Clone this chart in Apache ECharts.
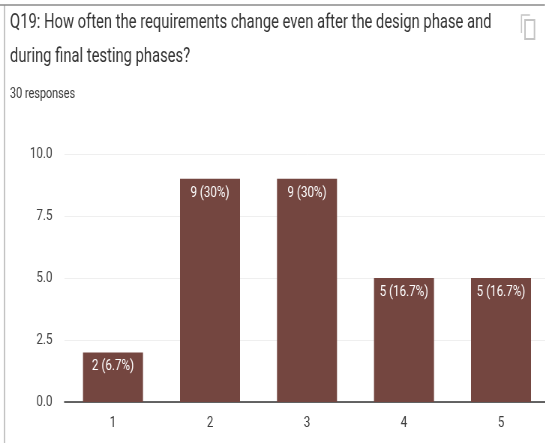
<!DOCTYPE html>
<html><head><meta charset="utf-8">
<style>html,body{margin:0;padding:0;background:#fff;overflow:hidden;width:545px;height:443px}
#c{width:760px;height:443px;transform:scaleX(0.75);transform-origin:0 0}</style>
<script src="https://cdn.jsdelivr.net/npm/echarts@6/dist/echarts.min.js"></script></head>
<body><div id="c"></div>
<script>
const categories = ['1','2','3','4','5'];
const values = [2,9,9,5,5];
const valueLabels = ['2 (6.7%)','9 (30%)','9 (30%)','5 (16.7%)','5 (16.7%)'];
const titleLines = ['Q19: How often the requirements change even after the design phase and','during final testing phases?'];
const subtitle = '30 responses';
const S = 0.75, sx = x => x / S;
const font = 'Roboto,sans-serif';
const chart = echarts.init(document.getElementById('c'),null,{renderer:'canvas',width:760,height:443});
chart.setOption({
  animation:false,
  backgroundColor:'#fff',
  grid:{left:sx(64.5),top:154,width:sx(485),height:248,containLabel:false},
  xAxis:{type:'category',data:categories,
    axisLine:{lineStyle:{color:'#333',width:1.5}},axisTick:{show:false},
    axisLabel:{color:'#3c3c3c',fontFamily:font,fontSize:15.5,margin:13}},
  yAxis:{type:'value',min:0,max:10,interval:2.5,
    axisLine:{show:false},axisTick:{show:false},
    axisLabel:{color:'#444',fontFamily:font,fontSize:15.5,margin:sx(12),formatter:v=>v.toFixed(1)},
    splitLine:{lineStyle:{color:'#efefef',width:1}}},
  series:[{type:'bar',data:values,barWidth:sx(60),itemStyle:{color:'#744640'},
    label:{show:true,position:'insideTop',distance:6,color:'#fff',fontFamily:font,fontSize:15.5,
      formatter:p=>valueLabels[p.dataIndex]}}],
  graphic:[
    {type:'line',shape:{x1:0,y1:5,x2:sx(545),y2:5},style:{stroke:'#8a8a8a',lineWidth:1.5}},
    {type:'line',shape:{x1:sx(4.5),y1:5,x2:sx(4.5),y2:443},style:{stroke:'#8a8a8a',lineWidth:1}},
    {type:'text',x:sx(10),y:23,style:{text:titleLines[0],fill:'#333',font:'19.7px '+font,textVerticalAlign:'middle'}},
    {type:'text',x:sx(10),y:57,style:{text:titleLines[1],fill:'#333',font:'19.7px '+font,textVerticalAlign:'middle'}},
    {type:'text',x:sx(10),y:94,style:{text:subtitle,fill:'#3c3c3c',font:'14.5px '+font,textVerticalAlign:'middle'}},
    {type:'polyline',shape:{points:[[sx(530),15],[sx(521.5),15],[sx(521.5),33]]},style:{fill:'none',stroke:'#c4c4c4',lineWidth:1.5}},
    {type:'rect',shape:{x:sx(525),y:20,width:sx(9.5),height:19},style:{fill:'#fff',stroke:'#c4c4c4',lineWidth:2}}
  ]
});
</script></body></html>
